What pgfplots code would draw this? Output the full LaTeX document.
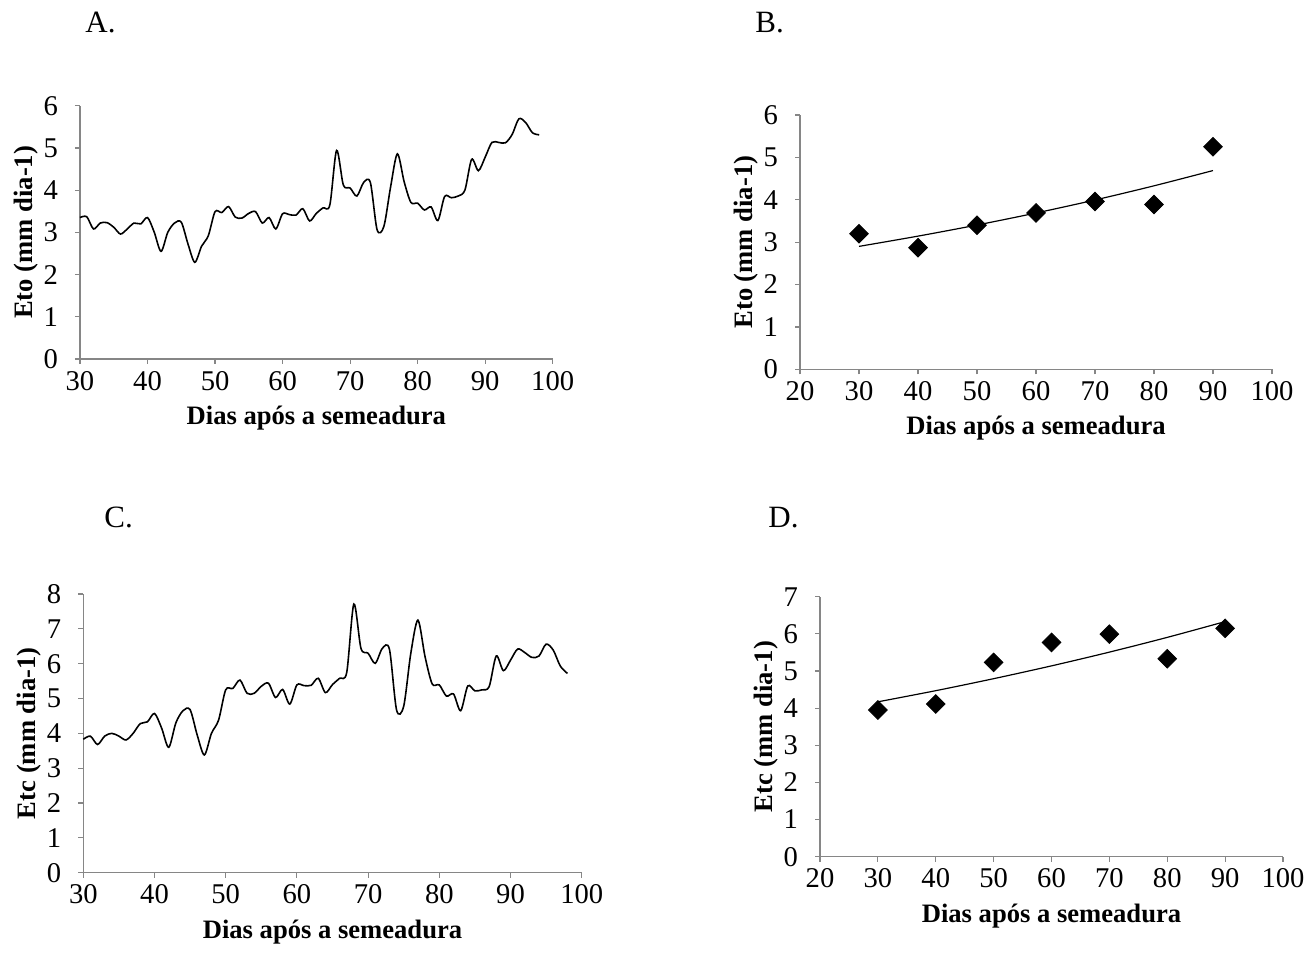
\documentclass[border=0pt]{standalone}
\usepackage{fontspec}
\setmainfont{Liberation Serif}
\usepackage{pgfplots}
\pgfplotsset{compat=1.18}
\definecolor{axgray}{RGB}{134,134,134}

\pgfplotsset{
  panel/.style={
    scale only axis, anchor=south west,
    axis x line=bottom, axis y line=left,
    axis line style={-, axgray, line width=0.6pt},
    tick style={axgray, line width=0.6pt},
    tick align=outside, major tick length=2.5bp,
    xtick pos=bottom, ytick pos=left,
    /pgf/number format/assume math mode=true,
    tick label style={font=\fontsize{14.3bp}{16bp}\selectfont},
    yticklabel style={xshift=-5bp},
    label style={font=\fontsize{13.3bp}{15bp}\selectfont\bfseries},
    xlabel style={yshift=-1bp},
    ylabel shift=-4bp,
    xlabel={Dias após a semeadura},
    clip=false,
  },
  curve/.style={black, line width=0.8pt, smooth, tension=0.5, no marks},
  pts/.style={only marks, mark=square*, mark size=3.3bp, mark options={rotate=45, fill=black, draw=black}},
  trend/.style={black, line width=0.6pt, smooth, no marks},
}
\tikzset{ttl/.style={anchor=base west, inner sep=0pt, font=\fontsize{15.5bp}{18bp}\selectfont}}

\begin{document}
\begin{tikzpicture}
\path[use as bounding box] (0,0) rectangle (653bp,478bp);

\node[ttl] at (42.5bp,461.5bp) {A.};
\node[ttl] at (377.5bp,461.5bp) {B.};
\node[ttl] at (52bp,214.3bp) {C.};
\node[ttl] at (384bp,214.3bp) {D.};

% A
\begin{axis}[panel, at={(40bp,298.5bp)}, width=236.35bp, height=126.65bp,
  xmin=30, xmax=100, ymin=0, ymax=6, xtick={30,40,...,100}, ytick={0,1,...,6},
  ylabel={Eto (mm dia-1)}]
\addplot[curve] table {
x y
30 3.35
31 3.37
32 3.08
33 3.22
34 3.23
35 3.12
36 2.96
37 3.08
38 3.22
39 3.20
40 3.35
41 3.00
42 2.55
43 3.00
44 3.22
45 3.24
46 2.72
47 2.29
48 2.67
49 2.92
50 3.49
51 3.47
52 3.61
53 3.36
54 3.34
55 3.45
56 3.49
57 3.22
58 3.35
59 3.08
60 3.44
61 3.42
62 3.41
63 3.56
64 3.27
65 3.45
66 3.58
67 3.65
68 4.94
69 4.12
70 4.05
71 3.86
72 4.18
73 4.18
74 3.06
75 3.14
76 4.08
77 4.86
78 4.20
79 3.71
80 3.69
81 3.53
82 3.60
83 3.28
84 3.85
85 3.82
86 3.86
87 4.00
88 4.73
89 4.46
90 4.78
91 5.13
92 5.13
93 5.12
94 5.32
95 5.69
96 5.60
97 5.36
98 5.31
};
\end{axis}

% B
\begin{axis}[panel, at={(400bp,293.35bp)}, width=236bp, height=127.15bp,
  xmin=20, xmax=100, ymin=0, ymax=6, xtick={20,30,...,100}, ytick={0,1,...,6},
  ylabel={Eto (mm dia-1)}]
\addplot[trend] coordinates {(30,2.900)(40,3.142)(50,3.404)(60,3.688)(70,3.995)(80,4.329)(90,4.689)};
\addplot[pts] coordinates {(30,3.20)(40,2.87)(50,3.40)(60,3.69)(70,3.96)(80,3.89)(90,5.25)};
\end{axis}

% C
\begin{axis}[panel, at={(41.65bp,41.65bp)}, width=249.2bp, height=139.35bp,
  xmin=30, xmax=100, ymin=0, ymax=8, xtick={30,40,...,100}, ytick={0,1,...,8},
  ylabel={Etc (mm dia-1)}]
\addplot[curve] table {
x y
30 3.83
31 3.92
32 3.68
33 3.92
34 4.00
35 3.92
36 3.81
37 4.00
38 4.28
39 4.33
40 4.57
41 4.15
42 3.60
43 4.30
44 4.65
45 4.68
46 3.95
47 3.38
48 4.00
49 4.38
50 5.25
51 5.29
52 5.53
53 5.15
54 5.15
55 5.35
56 5.44
57 5.03
58 5.26
59 4.84
60 5.39
61 5.37
62 5.38
63 5.58
64 5.17
65 5.40
66 5.58
67 5.75
68 7.71
69 6.44
70 6.30
71 6.01
72 6.44
73 6.41
74 4.67
75 4.78
76 6.30
77 7.25
78 6.20
79 5.42
80 5.39
81 5.07
82 5.13
83 4.65
84 5.36
85 5.22
86 5.25
87 5.34
88 6.22
89 5.80
90 6.10
91 6.42
92 6.32
93 6.18
94 6.22
95 6.56
96 6.39
97 5.93
98 5.72
};
\end{axis}

% D
\begin{axis}[panel, at={(410bp,49.65bp)}, width=231.5bp, height=130bp,
  xmin=20, xmax=100, ymin=0, ymax=7, xtick={20,30,...,100}, ytick={0,1,...,7},
  ylabel={Etc (mm dia-1)}]
\addplot[trend] coordinates {(30,4.170)(40,4.470)(50,4.793)(60,5.138)(70,5.508)(80,5.905)(90,6.330)};
\addplot[pts] coordinates {(30,3.95)(40,4.11)(50,5.23)(60,5.77)(70,5.99)(80,5.33)(90,6.15)};
\end{axis}
\end{tikzpicture}
\end{document}
